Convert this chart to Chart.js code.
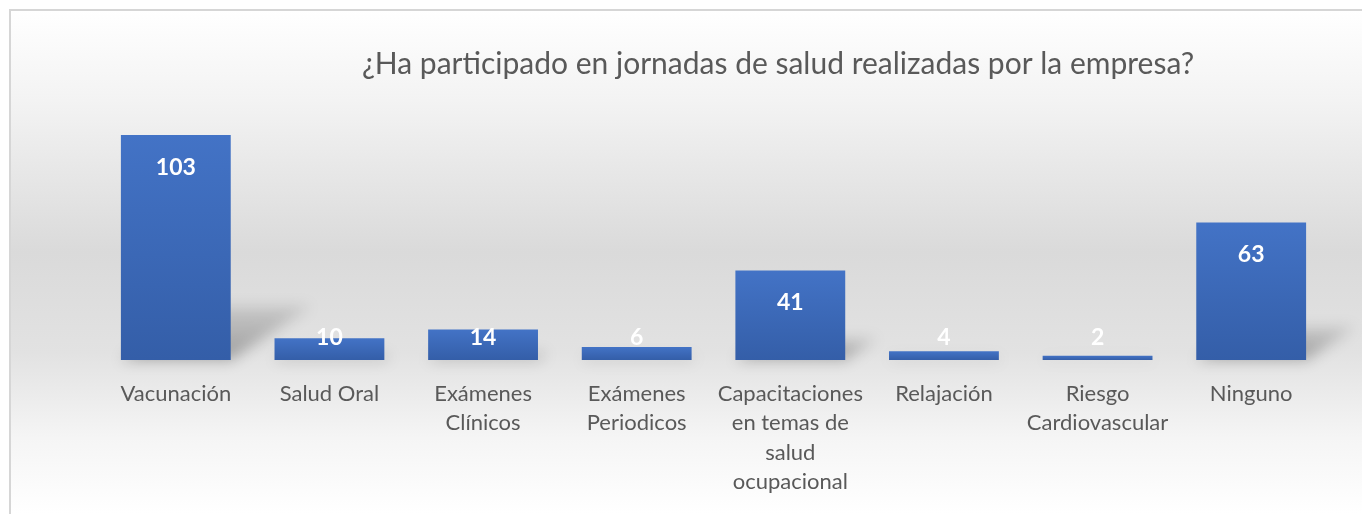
<!DOCTYPE html>
<html>
<head>
<meta charset="utf-8">
<script src="https://cdn.jsdelivr.net/npm/chart.js@4.4.1/dist/chart.umd.min.js"></script>
<style>
  html, body { margin: 0; padding: 0; background: #fff; }
  #chart { display: block; }
</style>
</head>
<body>
<canvas id="chart" width="1362" height="514"></canvas>
<script>
const chartTitle = '¿Ha participado en jornadas de salud realizadas por la empresa?';
const categories = [
    ['Vacunación'],
    ['Salud Oral'],
    ['Exámenes', 'Clínicos'],
    ['Exámenes', 'Periodicos'],
    ['Capacitaciones', 'en temas de', 'salud', 'ocupacional'],
    ['Relajación'],
    ['Riesgo', 'Cardiovascular'],
    ['Ninguno']
];
const values = [103, 10, 14, 6, 41, 4, 2, 63];

const FONT = 'Lato, "Open Sans", sans-serif';

// background panel with the soft gray band and thin frame
const backgroundPlugin = {
    id: 'panel',
    beforeDraw(chart) {
        const { ctx, width, height } = chart;
        ctx.save();
        ctx.fillStyle = '#ffffff';
        ctx.fillRect(0, 0, width, height);
        const g = ctx.createLinearGradient(0, 10, 0, height);
        g.addColorStop(0, '#ffffff');
        g.addColorStop(0.18, '#f3f3f3');
        g.addColorStop(0.48, '#dadada');
        g.addColorStop(0.68, '#e2e2e2');
        g.addColorStop(0.85, '#f5f5f5');
        g.addColorStop(1, '#ffffff');
        ctx.fillStyle = g;
        ctx.fillRect(10, 10, width - 10, height - 10);
        ctx.strokeStyle = '#d6d6d6';
        ctx.lineWidth = 2;
        ctx.beginPath();
        ctx.moveTo(10, height);
        ctx.lineTo(10, 10);
        ctx.lineTo(width, 10);
        ctx.stroke();

        ctx.fillStyle = '#595959';
        ctx.font = '30px ' + FONT;
        ctx.textAlign = 'center';
        ctx.textBaseline = 'middle';
        ctx.fillText(chartTitle, 778, 64);
        ctx.restore();
    }
};

// perspective shadow thrown to the right of every bar
const shadowPlugin = {
    id: 'barShadow',
    beforeDatasetsDraw(chart) {
        const { ctx } = chart;
        const meta = chart.getDatasetMeta(0);
        ctx.save();
        ctx.filter = 'blur(7px)';
        meta.data.forEach(bar => {
            const h = bar.base - bar.y;
            const half = bar.width / 2;
            const sx = h * 0.36;
            const sh = h * 0.24;
            const g = ctx.createLinearGradient(0, bar.base, 0, bar.base - sh);
            g.addColorStop(0, 'rgba(0,0,0,0.30)');
            g.addColorStop(1, 'rgba(0,0,0,0.10)');
            ctx.fillStyle = g;
            ctx.beginPath();
            ctx.moveTo(bar.x - half, bar.base);
            ctx.lineTo(bar.x + half, bar.base);
            ctx.lineTo(bar.x + half + sx, bar.base - sh);
            ctx.lineTo(bar.x - half + sx, bar.base - sh);
            ctx.closePath();
            ctx.fill();
        });
        ctx.restore();
    }
};

// white value labels near the top of each bar
const valueLabelPlugin = {
    id: 'valueLabels',
    afterDatasetsDraw(chart) {
        const { ctx } = chart;
        const meta = chart.getDatasetMeta(0);
        ctx.save();
        ctx.fillStyle = '#ffffff';
        ctx.font = 'bold 23px ' + FONT;
        ctx.textAlign = 'center';
        ctx.textBaseline = 'middle';
        meta.data.forEach((bar, i) => {
            const y = Math.min(bar.y + 32, bar.base - 22);
            ctx.fillText(String(values[i]), bar.x, y);
        });
        ctx.restore();
    }
};

function barGradient(context) {
    const chart = context.chart;
    if (!chart.chartArea) return '#4170c2';
    const y = chart.scales.y;
    const v = context.parsed ? context.parsed.y : values[context.dataIndex];
    const top = y.getPixelForValue(v);
    const bottom = y.getPixelForValue(0);
    const g = chart.ctx.createLinearGradient(0, top, 0, Math.max(bottom, top + 1));
    g.addColorStop(0, '#4373c6');
    g.addColorStop(1, '#345ea8');
    return g;
}

new Chart(document.getElementById('chart'), {
    type: 'bar',
    data: {
        labels: categories,
        datasets: [{
            data: values,
            backgroundColor: barGradient,
            borderWidth: 0,
            categoryPercentage: 1,
            barPercentage: 0.715
        }]
    },
    options: {
        responsive: false,
        animation: false,
        layout: { padding: { left: 99, right: 34, top: 98, bottom: 0 } },
        scales: {
            y: {
                display: false,
                min: 0,
                max: 120
            },
            x: {
                grid: { display: false },
                border: { display: false },
                ticks: {
                    color: '#595959',
                    padding: 11,
                    maxRotation: 0,
                    autoSkip: false,
                    font: { family: FONT, size: 22, lineHeight: '29.5px' }
                },
                afterFit(scale) { scale.height = 154; }
            }
        },
        plugins: {
            legend: { display: false },
            tooltip: { enabled: false }
        }
    },
    plugins: [backgroundPlugin, shadowPlugin, valueLabelPlugin]
});
</script>
</body>
</html>
